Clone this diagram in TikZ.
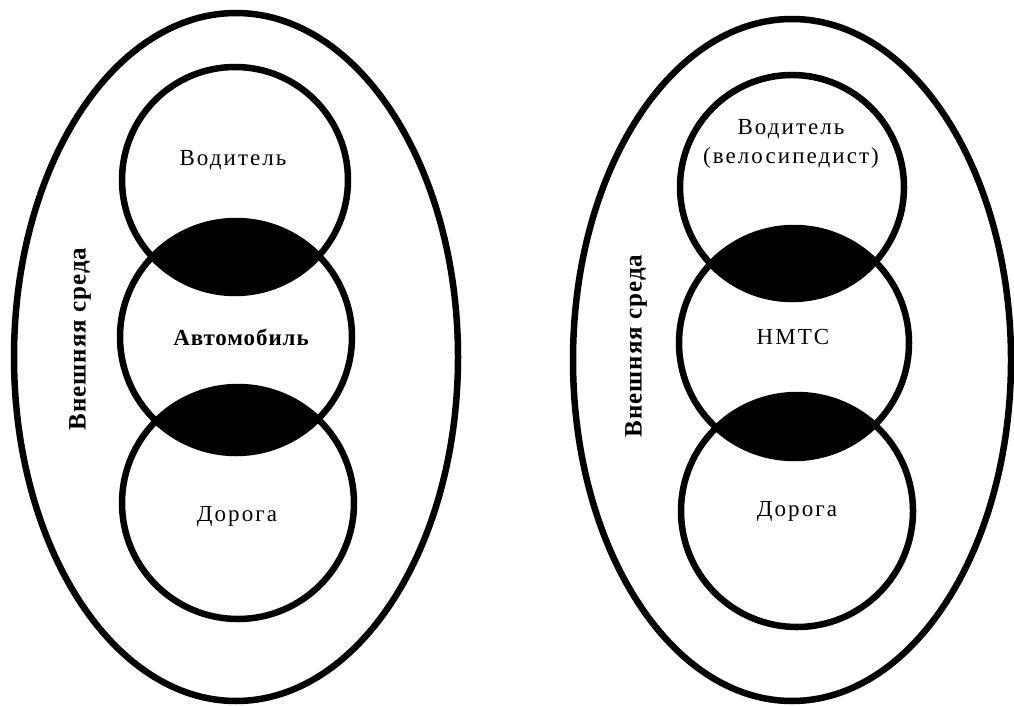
\documentclass[tikz,border=0pt]{standalone}
\usepackage{fontspec}
\setmainfont{Liberation Serif}
\newfontfamily\spacedfont[LetterSpace=9]{Liberation Serif}
\newfontfamily\tightfont[LetterSpace=4]{Liberation Serif}
\usetikzlibrary{positioning}

\begin{document}
\begin{tikzpicture}[x=1pt,y=-1pt,line width=6.5pt,
	lbl/.style={font=\spacedfont\fontsize{23}{29}\selectfont,align=center,inner sep=0pt},
	side/.style={font=\tightfont\fontsize{25}{30}\selectfont\bfseries,rotate=90,inner sep=0pt}]
	\useasboundingbox (0,0) rectangle (1014,706);
	% centres of the rings
	\coordinate (dl) at (235,180);
	\coordinate (al) at (236,337);
	\coordinate (rl) at (238,503);
	\coordinate (dr) at (792,187);
	\coordinate (nr) at (794,343);
	\coordinate (rr) at (797,511);
	% black overlaps
	\foreach \a/\ra/\b/\rb in {dl/113/al/116,al/116/rl/116,dr/112/nr/115,nr/115/rr/116}{
		\begin{scope}
			\clip (\a) circle (\ra);
			\fill (\b) circle (\rb);
		\end{scope}
	}
	\foreach \c/\r in {dl/113,al/116,rl/116,dr/112,nr/115,rr/116}
		\draw (\c) circle (\r);
	\draw (236,357) ellipse [x radius=222,y radius=344];
	\draw (792,360) ellipse [x radius=219,y radius=341];
	% texts
	\node[lbl] (drvL) at (233,160) {Водитель};
	\node[lbl,font=\tightfont\fontsize{23}{29}\selectfont\bfseries] (car) at (241,337) {Автомобиль};
	\node[lbl] (roadL) at (237,516) {Дорога};
	\node[lbl] (drvR) at (791,144) {Водитель\\(велосипедист)};
	\node[lbl] (nmts) at (793,337) {НМТС};
	\node[lbl] (roadR) at (797,511) {Дорога};
	\node[side] (envL) at (80,339) {Внешняя среда};
	\node[side] (envR) at (636,346) {Внешняя среда};
\end{tikzpicture}
\end{document}
